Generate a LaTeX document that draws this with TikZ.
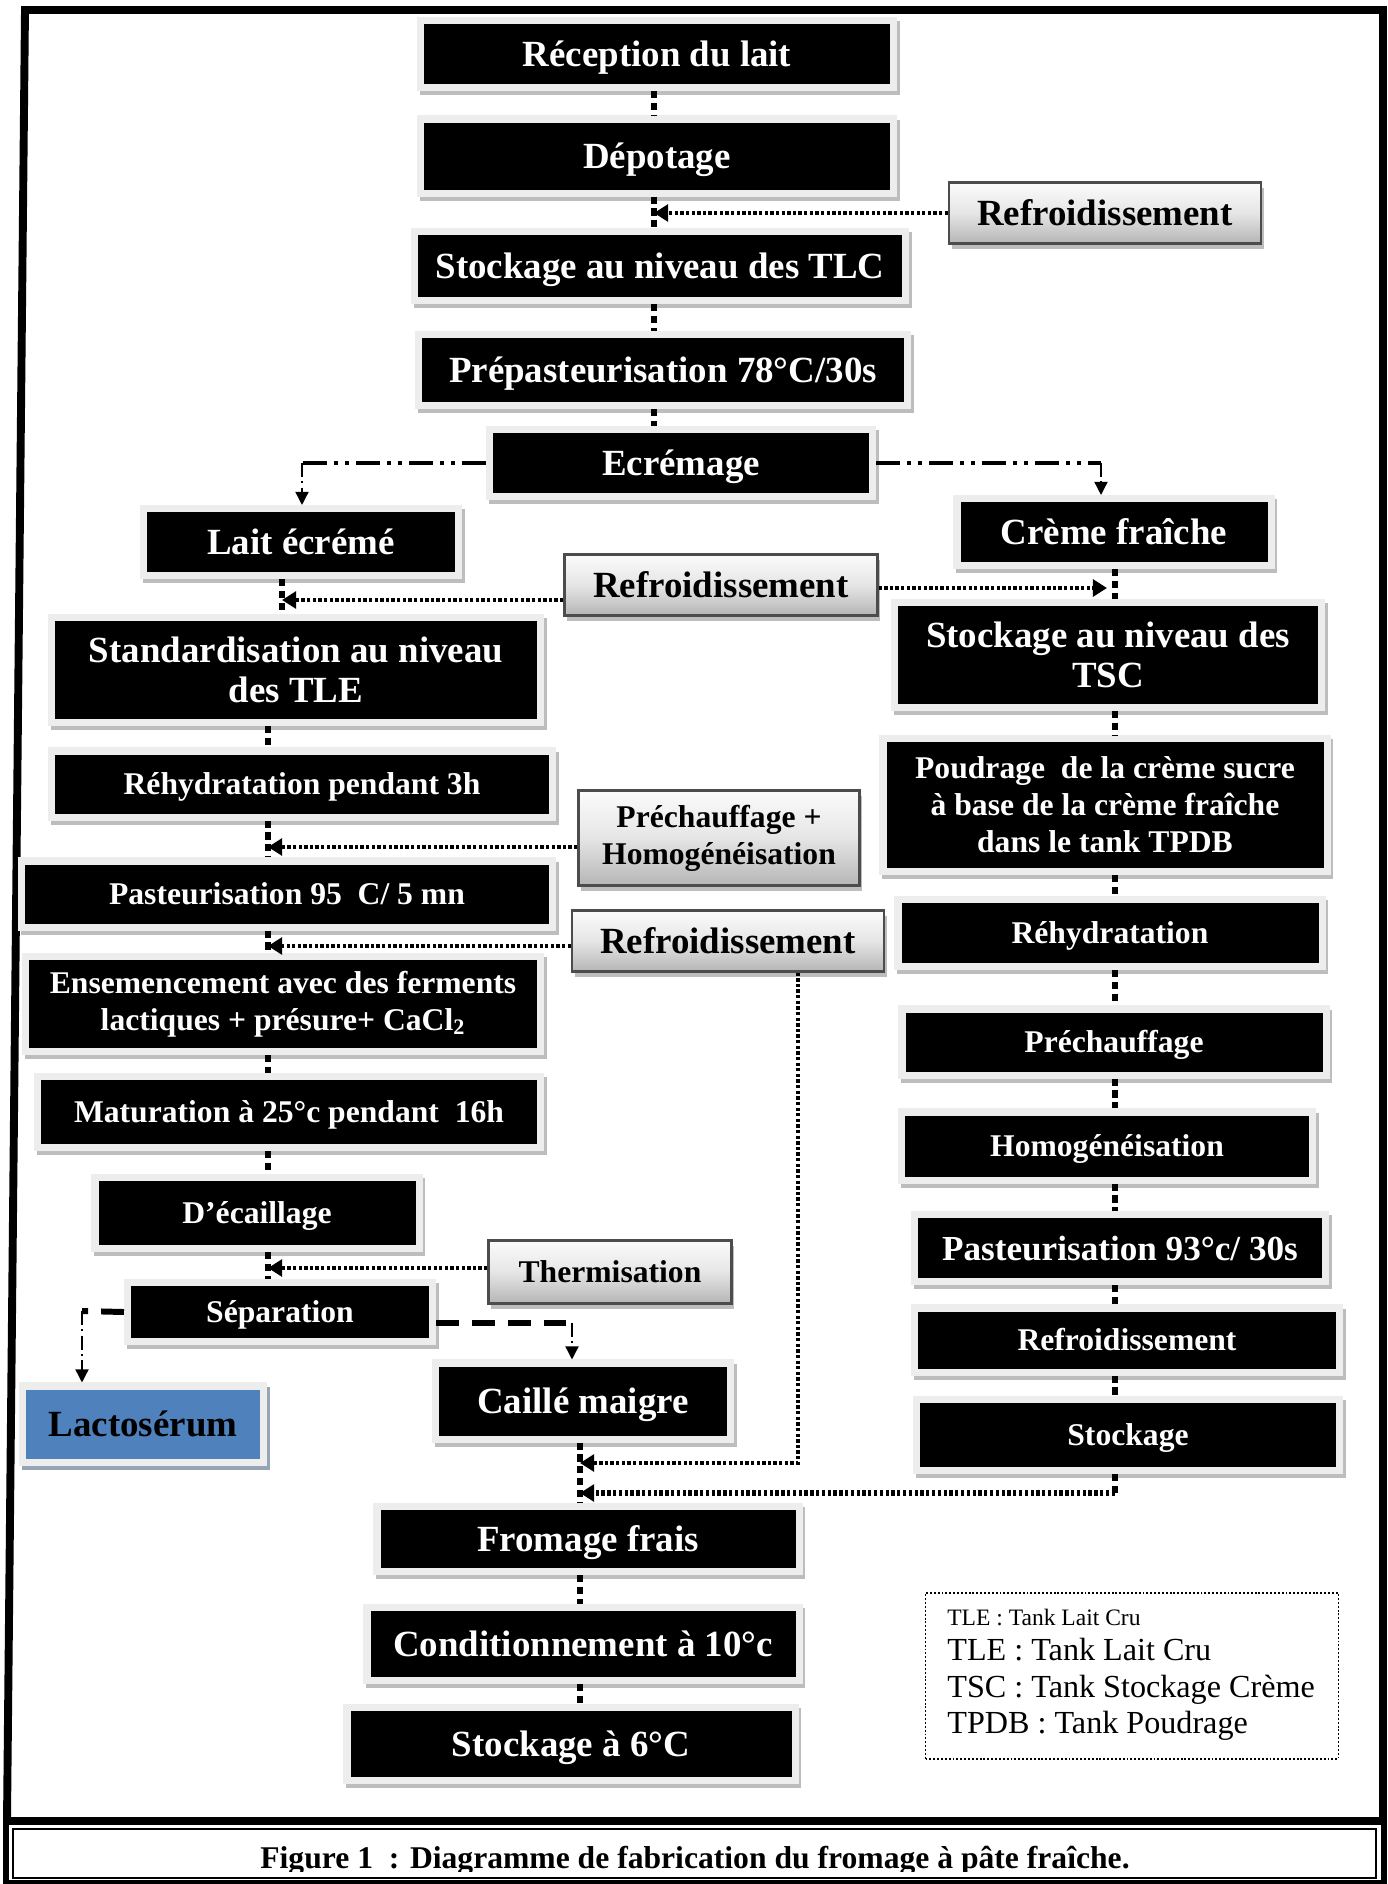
\documentclass[tikz,border=0pt]{standalone}
\usepackage{fontspec}
\setmainfont{Liberation Serif}
\usetikzlibrary{arrows.meta,calc,positioning}
\definecolor{halo}{gray}{0.93}
\definecolor{ombre}{gray}{0.74}
\definecolor{bleu}{HTML}{4F81BD}
\definecolor{ombrebleu}{HTML}{96A4B6}
\newcommand{\pix}{0.02cm}
\newcommand{\grand}{\fontsize{21}{23}\selectfont}
\newcommand{\moyen}{\fontsize{18}{21}\selectfont}
\tikzset{
  etape/.style={fill=black, text=white, font=\bfseries\grand, align=center, inner sep=1pt, outer sep=4pt,
    preaction={draw=#1, fill=#1, line width=8pt, transform canvas={shift={(1.5pt,-2.3pt)}}},
    preaction={draw=halo, line width=8pt}},
  etape/.default=ombre,
  grande/.style={font=\bfseries\grand, text height=19pt, text depth=4.6pt},
  petite/.style={font=\bfseries\moyen, text height=15.4pt, text depth=4pt},
  bloc/.style={font=\bfseries\moyen},
  annexe/.style={draw=gray!60!black, line width=1.2pt, top color=gray!3, bottom color=gray!58, middle color=gray!20,
    align=center, inner sep=1pt,
    preaction={fill=ombre, transform canvas={shift={(1.5pt,-3pt)}}}},
  lien/.style={line width=3pt, dash pattern=on 4pt off 2.8pt},
  fleche/.style={line width=2.1pt, dash pattern=on 1.9pt off 1.3pt, -{Triangle[length=8pt,width=9.5pt]}},
  flechegrasse/.style={fleche, line width=3.4pt, dash pattern=on 1.9pt off 1.4pt},
  mixte/.style={line width=2.3pt, dash pattern=on 13.6pt off 4pt on 2.3pt off 4pt on 2.3pt off 4pt},
  mixtefin/.style={line width=0.8pt, dash pattern=on 8pt off 2.5pt on 1pt off 2.5pt, -{Triangle[length=7.5pt,width=7.5pt]}},
  tiret/.style={line width=3.4pt, dash pattern=on 13pt off 7.4pt}
}
\begin{document}
\begin{tikzpicture}[x=\pix, y=-\pix]
\useasboundingbox (0,0) rectangle (1388,1884);
% cadre
\draw[line width=4.5pt] (25,10) -- (1383,10) -- (1383,1821) -- (7,1821) -- cycle;
\draw[line width=3.4pt] (6,1821) rectangle (1384,1883);
\draw[line width=0.9pt] (13,1829) rectangle (1376,1878);
% axes des liaisons verticales
\coordinate (axeC) at (654,0);
\coordinate (axeL) at (282,0);
\coordinate (axeG) at (268,0);
\coordinate (axeD) at (1115,0);
\coordinate (axeB) at (580,0);
% colonne centrale
\node[etape, grande, minimum width=466*\pix, minimum height=60*\pix] (recep) at (657,54) {Réception du lait};
\node[etape, grande, minimum width=466*\pix, minimum height=67*\pix] (depot) at (657,156) {Dépotage};
\node[etape, grande, minimum width=484*\pix, minimum height=62*\pix] (stockTLC) at (660,266) {Stockage au niveau des TLC};
\node[etape, grande, minimum width=482*\pix, minimum height=64*\pix] (prepast) at (663,370) {Prépasteurisation 78°C/30s};
\node[etape, grande, minimum width=376*\pix, minimum height=60*\pix] (ecremage) at (681,463) {Ecrémage};
% branche lait
\node[etape, grande, minimum width=308*\pix, minimum height=60*\pix] (lait) at (301,542) {Lait écrémé};
\node[etape, minimum width=482*\pix, minimum height=98*\pix] (stand) at (296,670) {Standardisation au niveau\\des TLE};
\node[etape, petite, minimum width=494*\pix, minimum height=59*\pix] (rehydG) at (302,784) {Réhydratation pendant 3h};
\node[etape, petite, minimum width=524*\pix, minimum height=59*\pix] (pastG) at (287,894) {Pasteurisation 95~ C/ 5 mn};
\node[etape, bloc, minimum width=508*\pix, minimum height=88*\pix] (ensem) at (283,1004) {Ensemencement avec des ferments\\lactiques + présure+ CaCl\textsubscript{2}};
\node[etape, petite, minimum width=496*\pix, minimum height=64*\pix] (matur) at (289,1112) {Maturation à 25°c pendant~ 16h};
\node[etape, petite, minimum width=317*\pix, minimum height=64*\pix] (decail) at (257,1213) {D’écaillage};
\node[etape, petite, minimum width=298*\pix, minimum height=52*\pix] (separ) at (280,1312) {Séparation};
\node[etape=ombrebleu, grande, fill=bleu, text=black, minimum width=234*\pix, minimum height=69*\pix] (lacto) at (143,1424) {Lactosérum};
\node[etape, grande, minimum width=288*\pix, minimum height=69*\pix] (caille) at (583,1401) {Caillé maigre};
% branche creme
\node[etape, grande, minimum width=307*\pix, minimum height=60*\pix] (creme) at (1114,532) {Crème fraîche};
\node[etape, minimum width=420*\pix, minimum height=98*\pix] (stockTSC) at (1108,655) {Stockage au niveau des\\TSC};
\node[etape, bloc, minimum width=437*\pix, minimum height=126*\pix] (poudrage) at (1105,805) {Poudrage~ de la crème sucre\\à base de la crème fraîche\\dans le tank TPDB};
\node[etape, petite, minimum width=417*\pix, minimum height=60*\pix] (rehydD) at (1110,933) {Réhydratation};
\node[etape, petite, minimum width=417*\pix, minimum height=59*\pix] (prechD) at (1114,1042) {Préchauffage};
\node[etape, petite, minimum width=404*\pix, minimum height=61*\pix] (homog) at (1107,1146) {Homogénéisation};
\node[etape, font=\bfseries\fontsize{20}{23}\selectfont, text height=18.6pt, text depth=4.4pt, minimum width=404*\pix, minimum height=60*\pix] (pastD) at (1120,1248) {Pasteurisation 93°c/ 30s};
\node[etape, petite, minimum width=418*\pix, minimum height=57*\pix] (refrD) at (1127,1340) {Refroidissement};
\node[etape, petite, minimum width=416*\pix, minimum height=64*\pix] (stockD) at (1128,1435) {Stockage};
% produit final
\node[etape, grande, minimum width=415*\pix, minimum height=58*\pix] (fromage) at (588,1539) {Fromage frais};
\node[etape, grande, minimum width=425*\pix, minimum height=66*\pix] (condit) at (583,1644) {Conditionnement à 10°c};
\node[etape, grande, minimum width=441*\pix, minimum height=66*\pix] (stock6) at (571,1744) {Stockage à 6°C};
% traitements annexes
\node[annexe, grande, minimum width=312*\pix, minimum height=61*\pix] (refr1) at (1105,213) {Refroidissement};
\node[annexe, grande, minimum width=313*\pix, minimum height=61*\pix] (refr2) at (721,585) {Refroidissement};
\node[annexe, bloc, minimum width=281*\pix, minimum height=95*\pix] (prechH) at (719,838) {Préchauffage +\\Homogénéisation};
\node[annexe, grande, minimum width=312*\pix, minimum height=61*\pix] (refr3) at (728,941) {Refroidissement};
\node[annexe, petite, minimum width=243*\pix, minimum height=63*\pix] (thermis) at (610,1272) {Thermisation};
% liaisons
\foreach \a/\b in {recep/depot, depot/stockTLC, stockTLC/prepast, prepast/ecremage}
  \draw[lien] (\a.south -| axeC) -- (\b.north -| axeC);
\draw[lien] (lait.south -| axeL) -- (stand.north -| axeL);
\foreach \a/\b in {stand/rehydG, rehydG/pastG, pastG/ensem, ensem/matur, matur/decail, decail/separ}
  \draw[lien] (\a.south -| axeG) -- (\b.north -| axeG);
\foreach \a/\b in {creme/stockTSC, stockTSC/poudrage, poudrage/rehydD, rehydD/prechD, prechD/homog, homog/pastD, pastD/refrD, refrD/stockD}
  \draw[lien] (\a.south -| axeD) -- (\b.north -| axeD);
\foreach \a/\b in {caille/fromage, fromage/condit, condit/stock6}
  \draw[lien] (\a.south -| axeB) -- (\b.north -| axeB);
% ecremage
\coordinate (coinG) at (302,463);
\coordinate (coinE) at (1101,463);
\draw[mixte] (ecremage.west) -- (coinG);
\draw[mixtefin] (coinG) -- (coinG |- lait.north);
\draw[mixte] (ecremage.east) -- (coinE);
\draw[mixtefin] (coinE) -- (coinE |- creme.north);
% separation
\coordinate (coinS) at (82,1311);
\coordinate (coinC) at (572,1323);
\draw[tiret] (separ.west) -- (coinS);
\draw[mixtefin] (coinS) -- (coinS |- lacto.north);
\draw[tiret] ([yshift=-11*\pix]separ.east) -- (coinC);
\draw[mixtefin] (coinC) -- (coinC |- caille.north);
% fleches des traitements
\draw[fleche] (refr1.west) -- (refr1.west -| axeC);
\draw[fleche] ([yshift=-15*\pix]refr2.west) -- ([yshift=-15*\pix]refr2.west -| axeL);
\draw[fleche, shorten >=8*\pix] ([yshift=-3*\pix]refr2.east) -- ([yshift=-3*\pix]refr2.east -| axeD);
\draw[fleche] ([yshift=-9*\pix]prechH.west) -- ([yshift=-9*\pix]prechH.west -| axeG);
\draw[fleche] ([yshift=-5*\pix]refr3.west) -- ([yshift=-5*\pix]refr3.west -| axeG);
\draw[fleche] ([yshift=4*\pix]thermis.west) -- ([yshift=4*\pix]thermis.west -| axeG);
\coordinate (jonctionB) at (580,1463);
\draw[fleche] ([xshift=70*\pix]refr3.south) |- (jonctionB);
\coordinate (coinD) at (1115,1493);
\draw[lien] (stockD.south -| axeD) -- (coinD);
\draw[flechegrasse] (coinD) -- (coinD -| axeB);
% legende des sigles
\node[draw, line width=1.1pt, dash pattern=on 1.1pt off 1.1pt, minimum width=413*\pix, minimum height=166*\pix] (cles) at (1132,1676) {};
\node[anchor=base west, inner sep=0, font=\fontsize{13.4}{15}\selectfont] (cle0) at (947,1625) {TLE : Tank Lait Cru};
\node[anchor=base west, inner sep=0, font=\fontsize{18.3}{21}\selectfont] (cle1) at (947,1660) {TLE : Tank Lait Cru};
\node[anchor=base west, inner sep=0, font=\fontsize{18.3}{21}\selectfont] (cle2) at (947,1697) {TSC : Tank Stockage Crème};
\node[anchor=base west, inner sep=0, font=\fontsize{18.3}{21}\selectfont] (cle3) at (947,1733) {TPDB : Tank Poudrage};
% titre
\begin{scope}
\clip (0,1826) rectangle (1388,1871);
\node[anchor=base, inner sep=0, font=\bfseries\fontsize{18}{20}\selectfont] (titre) at (695,1868) {Figure 1~ : Diagramme de fabrication du fromage à pâte fraîche.};
\end{scope}
\end{tikzpicture}
\end{document}
